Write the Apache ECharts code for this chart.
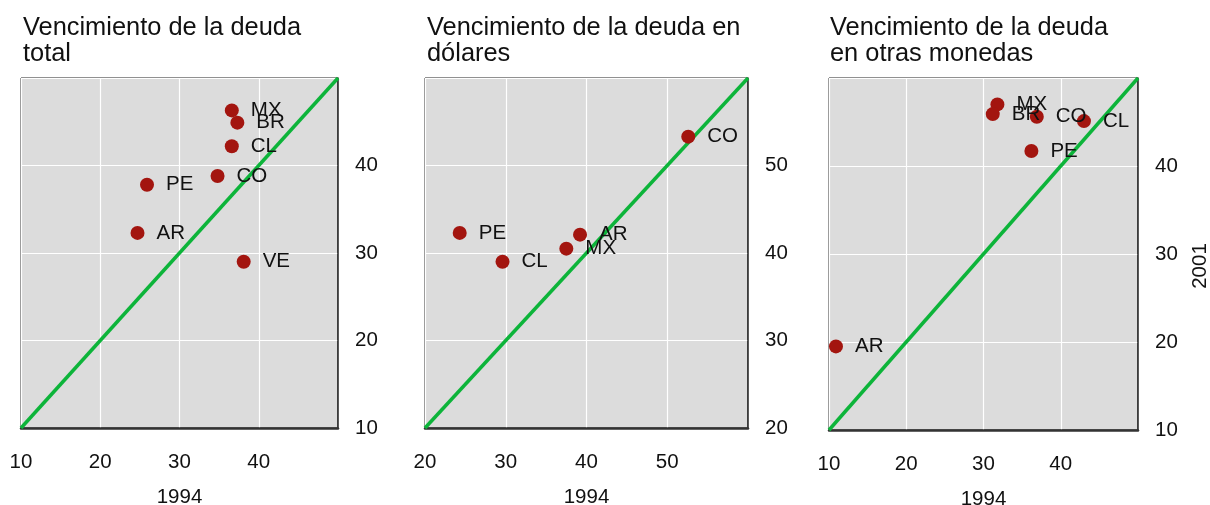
<!DOCTYPE html>
<html>
<head>
<meta charset="utf-8">
<script src="https://cdn.jsdelivr.net/npm/echarts@6/dist/echarts.min.js"></script>
<style>
html,body{margin:0;padding:0;background:#fff;overflow:hidden;}
#c{width:1210px;height:505px;}
</style>
</head>
<body>
<div id="c"></div>
<script>
// Panel 1: total debt maturity
const countries1 = ['MX','BR','CL','CO','PE','AR','VE'];
const total1994 = [36.6,37.3,36.6,34.8,25.9,24.7,38.1];
const total2001 = [46.3,44.9,42.2,38.8,37.8,32.3,29.0];
// Panel 2: dollar debt maturity
const countries2 = ['CO','PE','AR','MX','CL'];
const usd1994 = [52.6,24.3,39.2,37.5,29.6];
const usd2001 = [53.3,42.3,42.1,40.5,39.0];
// Panel 3: other currencies
const countries3 = ['MX','BR','CO','CL','PE','AR'];
const other1994 = [31.8,31.2,36.9,43.0,36.2,10.9];
const other2001 = [47.0,45.9,45.6,45.1,41.7,19.5];

const titles = ['Vencimiento de la deuda\ntotal','Vencimiento de la deuda en\ndólares','Vencimiento de la deuda\nen otras monedas'];
const ranges = [[10,50],[20,60],[10,50]];
const xName = '1994';
const yName = '2001';

const FONT = 'Liberation Sans, Arial, Helvetica, sans-serif';
const grids = [
  {left:21, top:78, width:317, height:350},
  {left:425, top:78, width:323, height:350},
  {left:829, top:78, width:309, height:352}
];
const titleLefts = [23, 427, 830];
const panels = [
  {names:countries1, xs:total1994, ys:total2001},
  {names:countries2, xs:usd1994, ys:usd2001},
  {names:countries3, xs:other1994, ys:other2001}
];

const option = {
  backgroundColor:'#ffffff',
  animation:false,
  textStyle:{fontFamily:FONT},
  title: titles.map((t,i)=>({
    text:t, left:titleLefts[i], top:14.5, padding:0,
    textStyle:{fontFamily:FONT, fontSize:25.4, fontWeight:'normal', color:'#111', lineHeight:26.5}
  })),
  grid: grids.map(g=>Object.assign({show:true, backgroundColor:'#dcdcdc', borderColor:'#222', borderWidth:1, containLabel:false, outerBoundsMode:'none'}, g)),
  xAxis: ranges.map((r,i)=>({
    type:'value', gridIndex:i, min:r[0], max:r[1], interval:10,
    name:xName, nameLocation:'middle', nameGap:59, nameMoveOverlap:false,
    nameTextStyle:{fontFamily:FONT, fontSize:20.5, color:'#111'},
    axisLine:{show:true, onZero:false, lineStyle:{color:'#333', width:2.5}},
    axisTick:{show:false},
    axisLabel:{fontFamily:FONT, fontSize:20.5, color:'#111', margin:24, showMaxLabel:false},
    splitLine:{show:true, lineStyle:{color:'#ffffff', width:1.2}}
  })),
  yAxis: ranges.map((r,i)=>({
    type:'value', gridIndex:i, min:r[0], max:r[1], interval:10, position:'right',
    name: i===2 ? yName : '', nameLocation:'middle', nameGap:52, nameMoveOverlap:false,
    nameTextStyle:{fontFamily:FONT, fontSize:20.5, color:'#111', padding:[0,24,0,0]},
    axisLine:{show:true, onZero:false, lineStyle:{color:'#222', width:1.5}},
    axisTick:{show:false},
    axisLabel:{fontFamily:FONT, fontSize:20.5, color:'#111', margin:17, showMaxLabel:false},
    splitLine:{show:true, lineStyle:{color:'#ffffff', width:1.2}}
  })),
  series: []
};

ranges.forEach((r,i)=>{
  option.series.push({
    type:'line', xAxisIndex:i, yAxisIndex:i,
    data:[[r[0],r[0]],[r[1],r[1]]],
    showSymbol:false, symbol:'none', silent:true,
    lineStyle:{color:'#0db43a', width:3.5},
    z:2
  });
  const p = panels[i];
  option.series.push({
    type:'scatter', xAxisIndex:i, yAxisIndex:i,
    data: p.names.map((n,k)=>({name:n, value:[p.xs[k], p.ys[k]]})),
    symbol:'circle', symbolSize:14,
    itemStyle:{color:'#a3150f', opacity:1},
    label:{show:true, position:'right', distance:12, formatter:'{b}', fontFamily:FONT, fontSize:20.5, color:'#111'},
    labelLayout:{hideOverlap:false},
    z:3
  });
});

const chart = echarts.init(document.getElementById('c'), null, {renderer:'canvas'});
chart.setOption(option);
</script>
</body>
</html>
